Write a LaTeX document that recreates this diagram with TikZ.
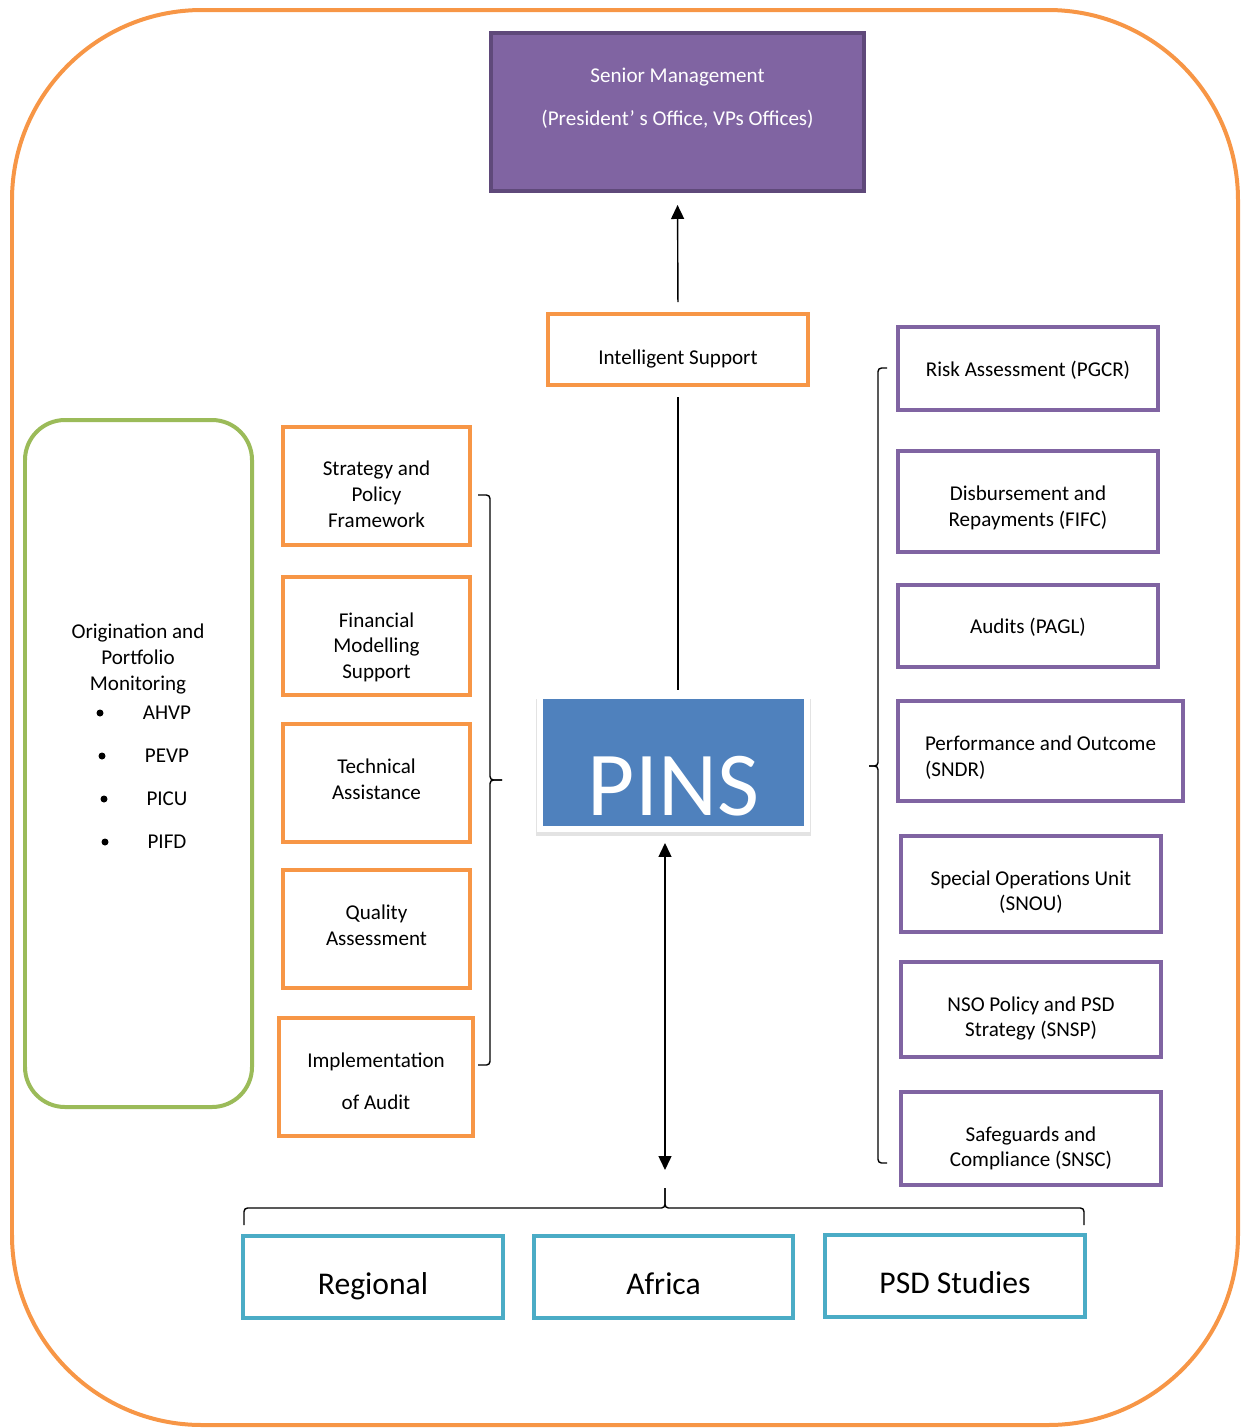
\documentclass[tikz,border=0pt]{standalone}
\usepackage{fontspec}
\setmainfont{Carlito}
\usetikzlibrary{arrows.meta, positioning, shadows}

\definecolor{pinsorange}{HTML}{F79646}
\definecolor{pinspurple}{HTML}{8064A2}
\definecolor{pinsdarkpurple}{HTML}{5F497A}
\definecolor{pinsblue}{HTML}{4F81BD}
\definecolor{pinsteal}{HTML}{4BACC6}
\definecolor{pinsgreen}{HTML}{9BBB59}

% room above the first line of a box text
\newcommand{\padtop}[1]{\rule{0pt}{\dimexpr 8.6pt+#1\relax}}

\begin{document}
\begin{tikzpicture}[x=0.02cm, y=-0.02cm, font=\fontsize{12}{14.6}\selectfont,
    >={Triangle[length=0.28cm, width=0.26cm]},
    orangebox/.style={draw=pinsorange, line width=0.08cm, align=center,
      minimum width=3.74cm, minimum height=2.36cm},
    purplebox/.style={draw=pinspurple, line width=0.08cm, align=center,
      minimum width=5.2cm},
    tealbox/.style={draw=pinsteal, line width=0.08cm, minimum width=5.2cm,
      minimum height=1.64cm, text height=24.4pt, text depth=4pt,
      font=\fontsize{18}{22}\selectfont},
    link/.style={line width=0.8pt},
    bracket/.style={line width=0.8pt, rounded corners=0.07cm},
    dot/.style={circle, fill, inner sep=0pt, minimum size=0.14cm}]

    \useasboundingbox (0,0) rectangle (1241,1428);

    % Draw outer frame
    \draw[pinsorange, line width=0.08cm, rounded corners=3.8cm] (12,10) rectangle (1238,1425);

    % Draw top boxes
    \node[draw=pinsdarkpurple, fill=pinspurple, line width=0.08cm, text=white, align=center,
      minimum width=7.46cm, minimum height=3.16cm] (senior) at (677.5,112)
      {Senior Management\\[9.8pt](President’ s Office, VPs Offices)\\[3pt]\mbox{}};
    \node[orangebox, minimum width=5.2cm, minimum height=1.42cm] (intel) at (678,349.5)
      {\padtop{10pt}Intelligent Support};

    % Draw PINS box
    \node[draw=white, fill=pinsblue, line width=0.12cm, text=white, inner sep=0pt,
      minimum width=5.34cm, minimum height=2.66cm, text height=2.1cm, text depth=0pt,
      font=\fontsize{52}{60}\selectfont,
      drop shadow={shadow xshift=0pt, shadow yshift=-2.5pt, shadow scale=1.03, opacity=0.22}]
      (pins) at (673.5,762.5) {PINS};

    % Draw green box on the left
    \draw[pinsgreen, line width=0.08cm, rounded corners=0.8cm] (25,420) rectangle (252,1107);
    \node[align=center] (origin) at (138,659) {Origination and\\Portfolio\\Monitoring};
    \foreach \lbl/\bx [count=\i] in {AHVP/100, PEVP/102, PICU/104, PIFD/105} {
      \node[dot] (dot\i) at (\bx, 670+43*\i) {};
      \node (unit\i) at (167, 670+43*\i) {\lbl};
    }

    % Draw orange boxes
    \node[orangebox] (strategy) at (376.5,486) {\padtop{9pt}Strategy and\\Policy\\Framework};
    \node[orangebox] (financial) at (376.5,636) {\padtop{12.5pt}Financial\\Modelling\\Support};
    \node[orangebox] (technical) at (376.5,783) {Technical\\Assistance\\[-10pt]\mbox{}};
    \node[orangebox] (quality) at (376.5,929) {Quality\\Assessment\\[-10pt]\mbox{}};
    \node[orangebox, minimum width=3.88cm] (implementation) at (376,1077)
      {\padtop{4.5pt}Implementation\\[9.5pt]of Audit};

    % Draw purple boxes
    \node[purplebox, minimum height=1.66cm] (risk) at (1028,368.5) {\padtop{2pt}Risk Assessment (PGCR)};
    \node[purplebox, minimum height=2.02cm] (disbursement) at (1028,501.5)
      {\padtop{7pt}Disbursement and\\Repayments (FIFC)};
    \node[purplebox, minimum height=1.64cm] (audits) at (1028,626) {\padtop{2pt}Audits (PAGL)};
    \node[purplebox, minimum width=5.7cm, minimum height=2cm, align=left] (performance) at (1040.5,751)
      {\padtop{7pt}Performance and Outcome\\(SNDR)};
    \node[purplebox, minimum height=1.92cm] (special) at (1031,884)
      {\padtop{9pt}Special Operations Unit\\(SNOU)};
    \node[purplebox, minimum height=1.9cm] (nso) at (1031,1009.5)
      {\padtop{10pt}NSO Policy and PSD\\Strategy (SNSP)};
    \node[purplebox, minimum height=1.86cm] (safeguards) at (1031,1138.5)
      {\padtop{11pt}Safeguards and\\Compliance (SNSC)};

    % Draw bottom boxes
    \node[tealbox] (regional) at (373,1277) {Regional};
    \node[tealbox] (africa) at (663.5,1277) {Africa};
    \node[tealbox] (psd) at (955,1276) {PSD Studies};

    % Draw braces
    \draw[bracket] (478,495) -- (490,495) -- (490,780) -- (502,780);
    \draw[bracket] (502,780) -- (490,780) -- (490,1065) -- (478,1065);
    \draw[bracket] (887,368) -- (878,368) -- (878,766) -- (869,766);
    \draw[bracket] (869,766) -- (878,766) -- (878,1163) -- (887,1163);
    \coordinate (bottomtip) at (665,1188);
    \draw[bracket] (244,1225) -- (244,1208) -- (665,1208) -- (bottomtip);
    \draw[bracket] (bottomtip) -- (665,1208) -- (1084,1208) -- (1084,1225);

    % Draw connectors
    \draw[link, ->, shorten <=0.2cm, shorten >=0.24cm] (intel.north) -- (senior.south);
    \draw[link, shorten <=0.2cm, shorten >=0.06cm] (intel.south) -- (intel.south |- pins.north);
    \draw[link, <->, shorten <=0.22cm, shorten >=0.36cm] (pins.south -| bottomtip) -- (bottomtip);
\end{tikzpicture}
\end{document}
